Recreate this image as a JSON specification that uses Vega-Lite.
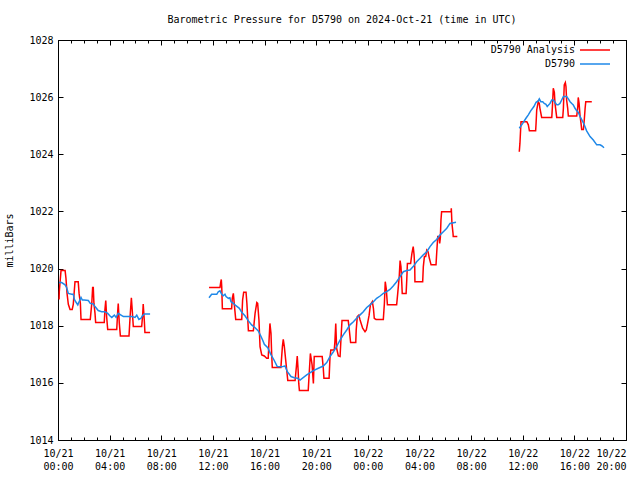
{
"$schema":"https://vega.github.io/schema/vega-lite/v6.json",
"width":568,"height":400,
"autosize":{"type":"none"},
"padding":{"left":58,"top":40,"right":14,"bottom":40},
"background":"white",
"title":{"text":"Barometric Pressure for D5790 on 2024-Oct-21 (time in UTC)","font":"DejaVu Sans Mono","fontSize":10,"fontWeight":"normal","color":"black","offset":10,"anchor":"middle"},
"config":{"view":{"stroke":"black","strokeWidth":1},"axis":{"labelFont":"DejaVu Sans Mono","labelFontSize":10,"labelColor":"black","domain":false,"grid":false,"ticks":true,"tickColor":"#000000","tickWidth":1,"tickOpacity":1,"titleFont":"DejaVu Sans Mono","titleFontSize":10,"titleFontWeight":"normal","titleColor":"black"}},
"datasets":{"d":[
{"t":"2024-10-21T00:05:00Z","v":1018.92,"s":"D5790 Analysis","g":1},
{"t":"2024-10-21T00:06:00Z","v":1019.19,"s":"D5790 Analysis","g":1},
{"t":"2024-10-21T00:14:00Z","v":1019.93,"s":"D5790 Analysis","g":1},
{"t":"2024-10-21T00:33:00Z","v":1019.93,"s":"D5790 Analysis","g":1},
{"t":"2024-10-21T00:37:00Z","v":1019.66,"s":"D5790 Analysis","g":1},
{"t":"2024-10-21T00:42:00Z","v":1019.13,"s":"D5790 Analysis","g":1},
{"t":"2024-10-21T00:48:00Z","v":1018.75,"s":"D5790 Analysis","g":1},
{"t":"2024-10-21T00:56:00Z","v":1018.57,"s":"D5790 Analysis","g":1},
{"t":"2024-10-21T01:06:00Z","v":1018.57,"s":"D5790 Analysis","g":1},
{"t":"2024-10-21T01:11:00Z","v":1018.75,"s":"D5790 Analysis","g":1},
{"t":"2024-10-21T01:19:00Z","v":1019.54,"s":"D5790 Analysis","g":1},
{"t":"2024-10-21T01:34:00Z","v":1019.54,"s":"D5790 Analysis","g":1},
{"t":"2024-10-21T01:38:00Z","v":1019.13,"s":"D5790 Analysis","g":1},
{"t":"2024-10-21T01:44:00Z","v":1018.78,"s":"D5790 Analysis","g":1},
{"t":"2024-10-21T01:47:00Z","v":1018.22,"s":"D5790 Analysis","g":1},
{"t":"2024-10-21T02:30:00Z","v":1018.22,"s":"D5790 Analysis","g":1},
{"t":"2024-10-21T02:37:00Z","v":1018.78,"s":"D5790 Analysis","g":1},
{"t":"2024-10-21T02:41:00Z","v":1019.34,"s":"D5790 Analysis","g":1},
{"t":"2024-10-21T02:44:00Z","v":1019.34,"s":"D5790 Analysis","g":1},
{"t":"2024-10-21T02:47:00Z","v":1018.78,"s":"D5790 Analysis","g":1},
{"t":"2024-10-21T02:52:00Z","v":1018.43,"s":"D5790 Analysis","g":1},
{"t":"2024-10-21T02:55:00Z","v":1018.11,"s":"D5790 Analysis","g":1},
{"t":"2024-10-21T03:35:00Z","v":1018.11,"s":"D5790 Analysis","g":1},
{"t":"2024-10-21T03:38:00Z","v":1018.55,"s":"D5790 Analysis","g":1},
{"t":"2024-10-21T03:42:00Z","v":1018.88,"s":"D5790 Analysis","g":1},
{"t":"2024-10-21T03:46:00Z","v":1018.32,"s":"D5790 Analysis","g":1},
{"t":"2024-10-21T03:51:00Z","v":1017.87,"s":"D5790 Analysis","g":1},
{"t":"2024-10-21T04:33:00Z","v":1017.87,"s":"D5790 Analysis","g":1},
{"t":"2024-10-21T04:37:00Z","v":1018.43,"s":"D5790 Analysis","g":1},
{"t":"2024-10-21T04:40:00Z","v":1018.78,"s":"D5790 Analysis","g":1},
{"t":"2024-10-21T04:45:00Z","v":1018.08,"s":"D5790 Analysis","g":1},
{"t":"2024-10-21T04:50:00Z","v":1017.64,"s":"D5790 Analysis","g":1},
{"t":"2024-10-21T05:30:00Z","v":1017.64,"s":"D5790 Analysis","g":1},
{"t":"2024-10-21T05:36:00Z","v":1018.43,"s":"D5790 Analysis","g":1},
{"t":"2024-10-21T05:41:00Z","v":1018.98,"s":"D5790 Analysis","g":1},
{"t":"2024-10-21T05:45:00Z","v":1018.55,"s":"D5790 Analysis","g":1},
{"t":"2024-10-21T05:50:00Z","v":1017.97,"s":"D5790 Analysis","g":1},
{"t":"2024-10-21T06:29:00Z","v":1017.97,"s":"D5790 Analysis","g":1},
{"t":"2024-10-21T06:34:00Z","v":1018.43,"s":"D5790 Analysis","g":1},
{"t":"2024-10-21T06:36:00Z","v":1018.76,"s":"D5790 Analysis","g":1},
{"t":"2024-10-21T06:41:00Z","v":1018.20,"s":"D5790 Analysis","g":1},
{"t":"2024-10-21T06:44:00Z","v":1017.76,"s":"D5790 Analysis","g":1},
{"t":"2024-10-21T07:08:00Z","v":1017.76,"s":"D5790 Analysis","g":1},
{"t":"2024-10-21T11:42:00Z","v":1019.34,"s":"D5790 Analysis","g":2},
{"t":"2024-10-21T12:33:00Z","v":1019.34,"s":"D5790 Analysis","g":2},
{"t":"2024-10-21T12:36:00Z","v":1019.51,"s":"D5790 Analysis","g":2},
{"t":"2024-10-21T12:39:00Z","v":1019.62,"s":"D5790 Analysis","g":2},
{"t":"2024-10-21T12:41:00Z","v":1019.37,"s":"D5790 Analysis","g":2},
{"t":"2024-10-21T12:44:00Z","v":1018.59,"s":"D5790 Analysis","g":2},
{"t":"2024-10-21T13:27:00Z","v":1018.59,"s":"D5790 Analysis","g":2},
{"t":"2024-10-21T13:30:00Z","v":1018.96,"s":"D5790 Analysis","g":2},
{"t":"2024-10-21T13:35:00Z","v":1019.13,"s":"D5790 Analysis","g":2},
{"t":"2024-10-21T13:39:00Z","v":1018.78,"s":"D5790 Analysis","g":2},
{"t":"2024-10-21T13:46:00Z","v":1018.22,"s":"D5790 Analysis","g":2},
{"t":"2024-10-21T14:14:00Z","v":1018.22,"s":"D5790 Analysis","g":2},
{"t":"2024-10-21T14:18:00Z","v":1018.90,"s":"D5790 Analysis","g":2},
{"t":"2024-10-21T14:23:00Z","v":1019.17,"s":"D5790 Analysis","g":2},
{"t":"2024-10-21T14:34:00Z","v":1019.17,"s":"D5790 Analysis","g":2},
{"t":"2024-10-21T14:38:00Z","v":1018.78,"s":"D5790 Analysis","g":2},
{"t":"2024-10-21T14:45:00Z","v":1017.82,"s":"D5790 Analysis","g":2},
{"t":"2024-10-21T15:08:00Z","v":1017.82,"s":"D5790 Analysis","g":2},
{"t":"2024-10-21T15:16:00Z","v":1018.43,"s":"D5790 Analysis","g":2},
{"t":"2024-10-21T15:24:00Z","v":1018.81,"s":"D5790 Analysis","g":2},
{"t":"2024-10-21T15:28:00Z","v":1018.78,"s":"D5790 Analysis","g":2},
{"t":"2024-10-21T15:34:00Z","v":1018.20,"s":"D5790 Analysis","g":2},
{"t":"2024-10-21T15:39:00Z","v":1017.27,"s":"D5790 Analysis","g":2},
{"t":"2024-10-21T15:47:00Z","v":1016.98,"s":"D5790 Analysis","g":2},
{"t":"2024-10-21T15:59:00Z","v":1016.94,"s":"D5790 Analysis","g":2},
{"t":"2024-10-21T16:10:00Z","v":1016.86,"s":"D5790 Analysis","g":2},
{"t":"2024-10-21T16:17:00Z","v":1016.86,"s":"D5790 Analysis","g":2},
{"t":"2024-10-21T16:21:00Z","v":1017.50,"s":"D5790 Analysis","g":2},
{"t":"2024-10-21T16:25:00Z","v":1018.08,"s":"D5790 Analysis","g":2},
{"t":"2024-10-21T16:30:00Z","v":1017.73,"s":"D5790 Analysis","g":2},
{"t":"2024-10-21T16:33:00Z","v":1017.03,"s":"D5790 Analysis","g":2},
{"t":"2024-10-21T16:36:00Z","v":1016.54,"s":"D5790 Analysis","g":2},
{"t":"2024-10-21T17:16:00Z","v":1016.54,"s":"D5790 Analysis","g":2},
{"t":"2024-10-21T17:23:00Z","v":1017.27,"s":"D5790 Analysis","g":2},
{"t":"2024-10-21T17:27:00Z","v":1017.52,"s":"D5790 Analysis","g":2},
{"t":"2024-10-21T17:32:00Z","v":1017.27,"s":"D5790 Analysis","g":2},
{"t":"2024-10-21T17:38:00Z","v":1016.82,"s":"D5790 Analysis","g":2},
{"t":"2024-10-21T17:43:00Z","v":1016.45,"s":"D5790 Analysis","g":2},
{"t":"2024-10-21T17:48:00Z","v":1016.08,"s":"D5790 Analysis","g":2},
{"t":"2024-10-21T18:22:00Z","v":1016.08,"s":"D5790 Analysis","g":2},
{"t":"2024-10-21T18:28:00Z","v":1016.57,"s":"D5790 Analysis","g":2},
{"t":"2024-10-21T18:32:00Z","v":1016.94,"s":"D5790 Analysis","g":2},
{"t":"2024-10-21T18:36:00Z","v":1016.45,"s":"D5790 Analysis","g":2},
{"t":"2024-10-21T18:39:00Z","v":1015.98,"s":"D5790 Analysis","g":2},
{"t":"2024-10-21T18:42:00Z","v":1015.73,"s":"D5790 Analysis","g":2},
{"t":"2024-10-21T19:23:00Z","v":1015.73,"s":"D5790 Analysis","g":2},
{"t":"2024-10-21T19:28:00Z","v":1016.39,"s":"D5790 Analysis","g":2},
{"t":"2024-10-21T19:33:00Z","v":1017.03,"s":"D5790 Analysis","g":2},
{"t":"2024-10-21T19:41:00Z","v":1016.63,"s":"D5790 Analysis","g":2},
{"t":"2024-10-21T19:47:00Z","v":1015.98,"s":"D5790 Analysis","g":2},
{"t":"2024-10-21T19:51:00Z","v":1016.92,"s":"D5790 Analysis","g":2},
{"t":"2024-10-21T20:28:00Z","v":1016.92,"s":"D5790 Analysis","g":2},
{"t":"2024-10-21T20:33:00Z","v":1016.51,"s":"D5790 Analysis","g":2},
{"t":"2024-10-21T20:36:00Z","v":1016.16,"s":"D5790 Analysis","g":2},
{"t":"2024-10-21T21:00:00Z","v":1016.16,"s":"D5790 Analysis","g":2},
{"t":"2024-10-21T21:04:00Z","v":1016.86,"s":"D5790 Analysis","g":2},
{"t":"2024-10-21T21:08:00Z","v":1017.15,"s":"D5790 Analysis","g":2},
{"t":"2024-10-21T21:24:00Z","v":1017.15,"s":"D5790 Analysis","g":2},
{"t":"2024-10-21T21:27:00Z","v":1017.44,"s":"D5790 Analysis","g":2},
{"t":"2024-10-21T21:31:00Z","v":1018.08,"s":"D5790 Analysis","g":2},
{"t":"2024-10-21T21:35:00Z","v":1017.21,"s":"D5790 Analysis","g":2},
{"t":"2024-10-21T21:43:00Z","v":1016.94,"s":"D5790 Analysis","g":2},
{"t":"2024-10-21T21:51:00Z","v":1016.92,"s":"D5790 Analysis","g":2},
{"t":"2024-10-21T21:55:00Z","v":1017.50,"s":"D5790 Analysis","g":2},
{"t":"2024-10-21T22:00:00Z","v":1018.18,"s":"D5790 Analysis","g":2},
{"t":"2024-10-21T22:29:00Z","v":1018.18,"s":"D5790 Analysis","g":2},
{"t":"2024-10-21T22:34:00Z","v":1017.85,"s":"D5790 Analysis","g":2},
{"t":"2024-10-21T22:40:00Z","v":1017.41,"s":"D5790 Analysis","g":2},
{"t":"2024-10-21T23:04:00Z","v":1017.41,"s":"D5790 Analysis","g":2},
{"t":"2024-10-21T23:06:00Z","v":1017.85,"s":"D5790 Analysis","g":2},
{"t":"2024-10-21T23:11:00Z","v":1018.32,"s":"D5790 Analysis","g":2},
{"t":"2024-10-21T23:18:00Z","v":1018.37,"s":"D5790 Analysis","g":2},
{"t":"2024-10-21T23:24:00Z","v":1018.20,"s":"D5790 Analysis","g":2},
{"t":"2024-10-21T23:36:00Z","v":1017.91,"s":"D5790 Analysis","g":2},
{"t":"2024-10-21T23:47:00Z","v":1017.79,"s":"D5790 Analysis","g":2},
{"t":"2024-10-21T23:53:00Z","v":1017.85,"s":"D5790 Analysis","g":2},
{"t":"2024-10-21T23:59:00Z","v":1018.08,"s":"D5790 Analysis","g":2},
{"t":"2024-10-22T00:06:00Z","v":1018.37,"s":"D5790 Analysis","g":2},
{"t":"2024-10-22T00:12:00Z","v":1018.73,"s":"D5790 Analysis","g":2},
{"t":"2024-10-22T00:21:00Z","v":1018.84,"s":"D5790 Analysis","g":2},
{"t":"2024-10-22T00:26:00Z","v":1018.61,"s":"D5790 Analysis","g":2},
{"t":"2024-10-22T00:30:00Z","v":1018.26,"s":"D5790 Analysis","g":2},
{"t":"2024-10-22T00:38:00Z","v":1018.22,"s":"D5790 Analysis","g":2},
{"t":"2024-10-22T01:12:00Z","v":1018.22,"s":"D5790 Analysis","g":2},
{"t":"2024-10-22T01:17:00Z","v":1018.78,"s":"D5790 Analysis","g":2},
{"t":"2024-10-22T01:21:00Z","v":1019.54,"s":"D5790 Analysis","g":2},
{"t":"2024-10-22T01:26:00Z","v":1019.27,"s":"D5790 Analysis","g":2},
{"t":"2024-10-22T01:31:00Z","v":1018.73,"s":"D5790 Analysis","g":2},
{"t":"2024-10-22T02:14:00Z","v":1018.73,"s":"D5790 Analysis","g":2},
{"t":"2024-10-22T02:19:00Z","v":1019.13,"s":"D5790 Analysis","g":2},
{"t":"2024-10-22T02:26:00Z","v":1019.72,"s":"D5790 Analysis","g":2},
{"t":"2024-10-22T02:30:00Z","v":1020.28,"s":"D5790 Analysis","g":2},
{"t":"2024-10-22T02:34:00Z","v":1020.07,"s":"D5790 Analysis","g":2},
{"t":"2024-10-22T02:38:00Z","v":1019.48,"s":"D5790 Analysis","g":2},
{"t":"2024-10-22T02:40:00Z","v":1019.13,"s":"D5790 Analysis","g":2},
{"t":"2024-10-22T02:58:00Z","v":1019.13,"s":"D5790 Analysis","g":2},
{"t":"2024-10-22T03:01:00Z","v":1019.60,"s":"D5790 Analysis","g":2},
{"t":"2024-10-22T03:04:00Z","v":1020.18,"s":"D5790 Analysis","g":2},
{"t":"2024-10-22T03:19:00Z","v":1020.18,"s":"D5790 Analysis","g":2},
{"t":"2024-10-22T03:25:00Z","v":1020.53,"s":"D5790 Analysis","g":2},
{"t":"2024-10-22T03:31:00Z","v":1020.77,"s":"D5790 Analysis","g":2},
{"t":"2024-10-22T03:35:00Z","v":1020.48,"s":"D5790 Analysis","g":2},
{"t":"2024-10-22T03:38:00Z","v":1020.07,"s":"D5790 Analysis","g":2},
{"t":"2024-10-22T03:39:00Z","v":1019.54,"s":"D5790 Analysis","g":2},
{"t":"2024-10-22T04:15:00Z","v":1019.54,"s":"D5790 Analysis","g":2},
{"t":"2024-10-22T04:18:00Z","v":1020.07,"s":"D5790 Analysis","g":2},
{"t":"2024-10-22T04:23:00Z","v":1020.42,"s":"D5790 Analysis","g":2},
{"t":"2024-10-22T04:29:00Z","v":1020.42,"s":"D5790 Analysis","g":2},
{"t":"2024-10-22T04:34:00Z","v":1020.65,"s":"D5790 Analysis","g":2},
{"t":"2024-10-22T04:40:00Z","v":1020.59,"s":"D5790 Analysis","g":2},
{"t":"2024-10-22T04:46:00Z","v":1020.36,"s":"D5790 Analysis","g":2},
{"t":"2024-10-22T04:54:00Z","v":1020.13,"s":"D5790 Analysis","g":2},
{"t":"2024-10-22T05:17:00Z","v":1020.13,"s":"D5790 Analysis","g":2},
{"t":"2024-10-22T05:20:00Z","v":1020.53,"s":"D5790 Analysis","g":2},
{"t":"2024-10-22T05:25:00Z","v":1021.12,"s":"D5790 Analysis","g":2},
{"t":"2024-10-22T05:31:00Z","v":1021.12,"s":"D5790 Analysis","g":2},
{"t":"2024-10-22T05:34:00Z","v":1020.88,"s":"D5790 Analysis","g":2},
{"t":"2024-10-22T05:37:00Z","v":1021.06,"s":"D5790 Analysis","g":2},
{"t":"2024-10-22T05:40:00Z","v":1021.70,"s":"D5790 Analysis","g":2},
{"t":"2024-10-22T05:43:00Z","v":1021.99,"s":"D5790 Analysis","g":2},
{"t":"2024-10-22T06:27:00Z","v":1021.99,"s":"D5790 Analysis","g":2},
{"t":"2024-10-22T06:28:00Z","v":1022.11,"s":"D5790 Analysis","g":2},
{"t":"2024-10-22T06:31:00Z","v":1021.58,"s":"D5790 Analysis","g":2},
{"t":"2024-10-22T06:36:00Z","v":1021.23,"s":"D5790 Analysis","g":2},
{"t":"2024-10-22T06:37:00Z","v":1021.12,"s":"D5790 Analysis","g":2},
{"t":"2024-10-22T06:56:00Z","v":1021.12,"s":"D5790 Analysis","g":2},
{"t":"2024-10-22T11:44:00Z","v":1024.09,"s":"D5790 Analysis","g":3},
{"t":"2024-10-22T11:47:00Z","v":1024.38,"s":"D5790 Analysis","g":3},
{"t":"2024-10-22T11:52:00Z","v":1025.14,"s":"D5790 Analysis","g":3},
{"t":"2024-10-22T12:19:00Z","v":1025.14,"s":"D5790 Analysis","g":3},
{"t":"2024-10-22T12:26:00Z","v":1025.03,"s":"D5790 Analysis","g":3},
{"t":"2024-10-22T12:31:00Z","v":1024.82,"s":"D5790 Analysis","g":3},
{"t":"2024-10-22T13:00:00Z","v":1024.82,"s":"D5790 Analysis","g":3},
{"t":"2024-10-22T13:02:00Z","v":1025.08,"s":"D5790 Analysis","g":3},
{"t":"2024-10-22T13:05:00Z","v":1025.55,"s":"D5790 Analysis","g":3},
{"t":"2024-10-22T13:12:00Z","v":1025.84,"s":"D5790 Analysis","g":3},
{"t":"2024-10-22T13:17:00Z","v":1025.78,"s":"D5790 Analysis","g":3},
{"t":"2024-10-22T13:20:00Z","v":1025.61,"s":"D5790 Analysis","g":3},
{"t":"2024-10-22T13:28:00Z","v":1025.29,"s":"D5790 Analysis","g":3},
{"t":"2024-10-22T14:15:00Z","v":1025.29,"s":"D5790 Analysis","g":3},
{"t":"2024-10-22T14:18:00Z","v":1025.67,"s":"D5790 Analysis","g":3},
{"t":"2024-10-22T14:22:00Z","v":1026.31,"s":"D5790 Analysis","g":3},
{"t":"2024-10-22T14:27:00Z","v":1026.17,"s":"D5790 Analysis","g":3},
{"t":"2024-10-22T14:30:00Z","v":1025.78,"s":"D5790 Analysis","g":3},
{"t":"2024-10-22T14:38:00Z","v":1025.29,"s":"D5790 Analysis","g":3},
{"t":"2024-10-22T15:06:00Z","v":1025.29,"s":"D5790 Analysis","g":3},
{"t":"2024-10-22T15:09:00Z","v":1025.61,"s":"D5790 Analysis","g":3},
{"t":"2024-10-22T15:13:00Z","v":1026.43,"s":"D5790 Analysis","g":3},
{"t":"2024-10-22T15:18:00Z","v":1026.51,"s":"D5790 Analysis","g":3},
{"t":"2024-10-22T15:21:00Z","v":1026.37,"s":"D5790 Analysis","g":3},
{"t":"2024-10-22T15:24:00Z","v":1025.90,"s":"D5790 Analysis","g":3},
{"t":"2024-10-22T15:29:00Z","v":1025.61,"s":"D5790 Analysis","g":3},
{"t":"2024-10-22T15:32:00Z","v":1025.34,"s":"D5790 Analysis","g":3},
{"t":"2024-10-22T16:11:00Z","v":1025.34,"s":"D5790 Analysis","g":3},
{"t":"2024-10-22T16:16:00Z","v":1025.67,"s":"D5790 Analysis","g":3},
{"t":"2024-10-22T16:18:00Z","v":1025.99,"s":"D5790 Analysis","g":3},
{"t":"2024-10-22T16:22:00Z","v":1025.78,"s":"D5790 Analysis","g":3},
{"t":"2024-10-22T16:26:00Z","v":1025.38,"s":"D5790 Analysis","g":3},
{"t":"2024-10-22T16:31:00Z","v":1025.08,"s":"D5790 Analysis","g":3},
{"t":"2024-10-22T16:34:00Z","v":1024.87,"s":"D5790 Analysis","g":3},
{"t":"2024-10-22T16:42:00Z","v":1024.87,"s":"D5790 Analysis","g":3},
{"t":"2024-10-22T16:46:00Z","v":1025.20,"s":"D5790 Analysis","g":3},
{"t":"2024-10-22T16:50:00Z","v":1025.61,"s":"D5790 Analysis","g":3},
{"t":"2024-10-22T16:53:00Z","v":1025.84,"s":"D5790 Analysis","g":3},
{"t":"2024-10-22T17:21:00Z","v":1025.84,"s":"D5790 Analysis","g":3},
{"t":"2024-10-21T00:05:00Z","v":1019.51,"s":"D5790","g":1},
{"t":"2024-10-21T00:17:00Z","v":1019.51,"s":"D5790","g":1},
{"t":"2024-10-21T00:33:00Z","v":1019.43,"s":"D5790","g":1},
{"t":"2024-10-21T00:40:00Z","v":1019.34,"s":"D5790","g":1},
{"t":"2024-10-21T00:48:00Z","v":1019.13,"s":"D5790","g":1},
{"t":"2024-10-21T01:04:00Z","v":1019.10,"s":"D5790","g":1},
{"t":"2024-10-21T01:11:00Z","v":1019.10,"s":"D5790","g":1},
{"t":"2024-10-21T01:16:00Z","v":1018.92,"s":"D5790","g":1},
{"t":"2024-10-21T01:24:00Z","v":1018.82,"s":"D5790","g":1},
{"t":"2024-10-21T01:32:00Z","v":1018.73,"s":"D5790","g":1},
{"t":"2024-10-21T01:38:00Z","v":1018.84,"s":"D5790","g":1},
{"t":"2024-10-21T01:47:00Z","v":1018.99,"s":"D5790","g":1},
{"t":"2024-10-21T01:53:00Z","v":1018.90,"s":"D5790","g":1},
{"t":"2024-10-21T02:02:00Z","v":1018.90,"s":"D5790","g":1},
{"t":"2024-10-21T02:21:00Z","v":1018.88,"s":"D5790","g":1},
{"t":"2024-10-21T02:30:00Z","v":1018.78,"s":"D5790","g":1},
{"t":"2024-10-21T02:44:00Z","v":1018.76,"s":"D5790","g":1},
{"t":"2024-10-21T02:52:00Z","v":1018.67,"s":"D5790","g":1},
{"t":"2024-10-21T03:07:00Z","v":1018.53,"s":"D5790","g":1},
{"t":"2024-10-21T03:23:00Z","v":1018.49,"s":"D5790","g":1},
{"t":"2024-10-21T03:38:00Z","v":1018.49,"s":"D5790","g":1},
{"t":"2024-10-21T03:51:00Z","v":1018.43,"s":"D5790","g":1},
{"t":"2024-10-21T04:02:00Z","v":1018.34,"s":"D5790","g":1},
{"t":"2024-10-21T04:10:00Z","v":1018.29,"s":"D5790","g":1},
{"t":"2024-10-21T04:22:00Z","v":1018.37,"s":"D5790","g":1},
{"t":"2024-10-21T04:30:00Z","v":1018.29,"s":"D5790","g":1},
{"t":"2024-10-21T04:40:00Z","v":1018.43,"s":"D5790","g":1},
{"t":"2024-10-21T04:53:00Z","v":1018.37,"s":"D5790","g":1},
{"t":"2024-10-21T05:04:00Z","v":1018.32,"s":"D5790","g":1},
{"t":"2024-10-21T05:43:00Z","v":1018.32,"s":"D5790","g":1},
{"t":"2024-10-21T05:58:00Z","v":1018.29,"s":"D5790","g":1},
{"t":"2024-10-21T06:06:00Z","v":1018.37,"s":"D5790","g":1},
{"t":"2024-10-21T06:16:00Z","v":1018.22,"s":"D5790","g":1},
{"t":"2024-10-21T06:26:00Z","v":1018.26,"s":"D5790","g":1},
{"t":"2024-10-21T06:32:00Z","v":1018.34,"s":"D5790","g":1},
{"t":"2024-10-21T06:41:00Z","v":1018.41,"s":"D5790","g":1},
{"t":"2024-10-21T07:08:00Z","v":1018.41,"s":"D5790","g":1},
{"t":"2024-10-21T11:42:00Z","v":1018.98,"s":"D5790","g":2},
{"t":"2024-10-21T11:54:00Z","v":1019.10,"s":"D5790","g":2},
{"t":"2024-10-21T12:18:00Z","v":1019.10,"s":"D5790","g":2},
{"t":"2024-10-21T12:25:00Z","v":1019.19,"s":"D5790","g":2},
{"t":"2024-10-21T12:33:00Z","v":1019.22,"s":"D5790","g":2},
{"t":"2024-10-21T12:41:00Z","v":1019.10,"s":"D5790","g":2},
{"t":"2024-10-21T12:48:00Z","v":1019.05,"s":"D5790","g":2},
{"t":"2024-10-21T12:56:00Z","v":1019.10,"s":"D5790","g":2},
{"t":"2024-10-21T13:01:00Z","v":1019.02,"s":"D5790","g":2},
{"t":"2024-10-21T13:12:00Z","v":1018.96,"s":"D5790","g":2},
{"t":"2024-10-21T13:19:00Z","v":1018.98,"s":"D5790","g":2},
{"t":"2024-10-21T13:24:00Z","v":1018.84,"s":"D5790","g":2},
{"t":"2024-10-21T13:35:00Z","v":1018.78,"s":"D5790","g":2},
{"t":"2024-10-21T13:47:00Z","v":1018.70,"s":"D5790","g":2},
{"t":"2024-10-21T14:03:00Z","v":1018.61,"s":"D5790","g":2},
{"t":"2024-10-21T14:14:00Z","v":1018.47,"s":"D5790","g":2},
{"t":"2024-10-21T14:29:00Z","v":1018.35,"s":"D5790","g":2},
{"t":"2024-10-21T14:45:00Z","v":1018.17,"s":"D5790","g":2},
{"t":"2024-10-21T15:00:00Z","v":1018.03,"s":"D5790","g":2},
{"t":"2024-10-21T15:16:00Z","v":1017.93,"s":"D5790","g":2},
{"t":"2024-10-21T15:31:00Z","v":1017.82,"s":"D5790","g":2},
{"t":"2024-10-21T15:42:00Z","v":1017.65,"s":"D5790","g":2},
{"t":"2024-10-21T15:51:00Z","v":1017.50,"s":"D5790","g":2},
{"t":"2024-10-21T15:59:00Z","v":1017.35,"s":"D5790","g":2},
{"t":"2024-10-21T16:15:00Z","v":1017.23,"s":"D5790","g":2},
{"t":"2024-10-21T16:29:00Z","v":1017.00,"s":"D5790","g":2},
{"t":"2024-10-21T16:44:00Z","v":1016.80,"s":"D5790","g":2},
{"t":"2024-10-21T16:59:00Z","v":1016.57,"s":"D5790","g":2},
{"t":"2024-10-21T17:20:00Z","v":1016.56,"s":"D5790","g":2},
{"t":"2024-10-21T17:35:00Z","v":1016.59,"s":"D5790","g":2},
{"t":"2024-10-21T17:46:00Z","v":1016.39,"s":"D5790","g":2},
{"t":"2024-10-21T18:03:00Z","v":1016.22,"s":"D5790","g":2},
{"t":"2024-10-21T18:18:00Z","v":1016.18,"s":"D5790","g":2},
{"t":"2024-10-21T18:34:00Z","v":1016.16,"s":"D5790","g":2},
{"t":"2024-10-21T18:45:00Z","v":1016.10,"s":"D5790","g":2},
{"t":"2024-10-21T19:16:00Z","v":1016.28,"s":"D5790","g":2},
{"t":"2024-10-21T19:47:00Z","v":1016.43,"s":"D5790","g":2},
{"t":"2024-10-21T20:10:00Z","v":1016.51,"s":"D5790","g":2},
{"t":"2024-10-21T20:33:00Z","v":1016.59,"s":"D5790","g":2},
{"t":"2024-10-21T20:49:00Z","v":1016.71,"s":"D5790","g":2},
{"t":"2024-10-21T21:04:00Z","v":1016.92,"s":"D5790","g":2},
{"t":"2024-10-21T21:20:00Z","v":1017.09,"s":"D5790","g":2},
{"t":"2024-10-21T21:35:00Z","v":1017.27,"s":"D5790","g":2},
{"t":"2024-10-21T21:51:00Z","v":1017.50,"s":"D5790","g":2},
{"t":"2024-10-21T22:06:00Z","v":1017.68,"s":"D5790","g":2},
{"t":"2024-10-21T22:22:00Z","v":1017.85,"s":"D5790","g":2},
{"t":"2024-10-21T22:37:00Z","v":1018.03,"s":"D5790","g":2},
{"t":"2024-10-21T22:53:00Z","v":1018.14,"s":"D5790","g":2},
{"t":"2024-10-21T23:08:00Z","v":1018.26,"s":"D5790","g":2},
{"t":"2024-10-21T23:24:00Z","v":1018.38,"s":"D5790","g":2},
{"t":"2024-10-21T23:39:00Z","v":1018.49,"s":"D5790","g":2},
{"t":"2024-10-21T23:55:00Z","v":1018.64,"s":"D5790","g":2},
{"t":"2024-10-22T00:10:00Z","v":1018.73,"s":"D5790","g":2},
{"t":"2024-10-22T00:26:00Z","v":1018.84,"s":"D5790","g":2},
{"t":"2024-10-22T00:41:00Z","v":1018.96,"s":"D5790","g":2},
{"t":"2024-10-22T00:57:00Z","v":1019.04,"s":"D5790","g":2},
{"t":"2024-10-22T01:12:00Z","v":1019.13,"s":"D5790","g":2},
{"t":"2024-10-22T01:28:00Z","v":1019.19,"s":"D5790","g":2},
{"t":"2024-10-22T01:43:00Z","v":1019.27,"s":"D5790","g":2},
{"t":"2024-10-22T01:58:00Z","v":1019.39,"s":"D5790","g":2},
{"t":"2024-10-22T02:14:00Z","v":1019.54,"s":"D5790","g":2},
{"t":"2024-10-22T02:30:00Z","v":1019.72,"s":"D5790","g":2},
{"t":"2024-10-22T02:45:00Z","v":1019.89,"s":"D5790","g":2},
{"t":"2024-10-22T03:01:00Z","v":1019.93,"s":"D5790","g":2},
{"t":"2024-10-22T03:16:00Z","v":1019.95,"s":"D5790","g":2},
{"t":"2024-10-22T03:31:00Z","v":1020.07,"s":"D5790","g":2},
{"t":"2024-10-22T03:47:00Z","v":1020.24,"s":"D5790","g":2},
{"t":"2024-10-22T04:03:00Z","v":1020.36,"s":"D5790","g":2},
{"t":"2024-10-22T04:18:00Z","v":1020.48,"s":"D5790","g":2},
{"t":"2024-10-22T04:34:00Z","v":1020.59,"s":"D5790","g":2},
{"t":"2024-10-22T04:49:00Z","v":1020.77,"s":"D5790","g":2},
{"t":"2024-10-22T05:04:00Z","v":1020.91,"s":"D5790","g":2},
{"t":"2024-10-22T05:20:00Z","v":1021.02,"s":"D5790","g":2},
{"t":"2024-10-22T05:36:00Z","v":1021.18,"s":"D5790","g":2},
{"t":"2024-10-22T05:51:00Z","v":1021.29,"s":"D5790","g":2},
{"t":"2024-10-22T06:07:00Z","v":1021.41,"s":"D5790","g":2},
{"t":"2024-10-22T06:22:00Z","v":1021.58,"s":"D5790","g":2},
{"t":"2024-10-22T06:50:00Z","v":1021.62,"s":"D5790","g":2},
{"t":"2024-10-22T11:44:00Z","v":1024.91,"s":"D5790","g":3},
{"t":"2024-10-22T12:00:00Z","v":1025.08,"s":"D5790","g":3},
{"t":"2024-10-22T12:15:00Z","v":1025.26,"s":"D5790","g":3},
{"t":"2024-10-22T12:26:00Z","v":1025.38,"s":"D5790","g":3},
{"t":"2024-10-22T12:37:00Z","v":1025.52,"s":"D5790","g":3},
{"t":"2024-10-22T12:52:00Z","v":1025.67,"s":"D5790","g":3},
{"t":"2024-10-22T13:02:00Z","v":1025.82,"s":"D5790","g":3},
{"t":"2024-10-22T13:12:00Z","v":1025.87,"s":"D5790","g":3},
{"t":"2024-10-22T13:17:00Z","v":1025.94,"s":"D5790","g":3},
{"t":"2024-10-22T13:24:00Z","v":1025.84,"s":"D5790","g":3},
{"t":"2024-10-22T13:33:00Z","v":1025.84,"s":"D5790","g":3},
{"t":"2024-10-22T13:40:00Z","v":1025.78,"s":"D5790","g":3},
{"t":"2024-10-22T13:48:00Z","v":1025.75,"s":"D5790","g":3},
{"t":"2024-10-22T13:54:00Z","v":1025.67,"s":"D5790","g":3},
{"t":"2024-10-22T14:07:00Z","v":1025.78,"s":"D5790","g":3},
{"t":"2024-10-22T14:15:00Z","v":1025.90,"s":"D5790","g":3},
{"t":"2024-10-22T14:22:00Z","v":1025.90,"s":"D5790","g":3},
{"t":"2024-10-22T14:30:00Z","v":1025.82,"s":"D5790","g":3},
{"t":"2024-10-22T14:38:00Z","v":1025.73,"s":"D5790","g":3},
{"t":"2024-10-22T14:45:00Z","v":1025.73,"s":"D5790","g":3},
{"t":"2024-10-22T14:53:00Z","v":1025.78,"s":"D5790","g":3},
{"t":"2024-10-22T15:01:00Z","v":1025.90,"s":"D5790","g":3},
{"t":"2024-10-22T15:09:00Z","v":1026.02,"s":"D5790","g":3},
{"t":"2024-10-22T15:24:00Z","v":1026.02,"s":"D5790","g":3},
{"t":"2024-10-22T15:32:00Z","v":1025.94,"s":"D5790","g":3},
{"t":"2024-10-22T15:40:00Z","v":1025.84,"s":"D5790","g":3},
{"t":"2024-10-22T15:48:00Z","v":1025.78,"s":"D5790","g":3},
{"t":"2024-10-22T15:55:00Z","v":1025.73,"s":"D5790","g":3},
{"t":"2024-10-22T16:03:00Z","v":1025.61,"s":"D5790","g":3},
{"t":"2024-10-22T16:11:00Z","v":1025.52,"s":"D5790","g":3},
{"t":"2024-10-22T16:18:00Z","v":1025.47,"s":"D5790","g":3},
{"t":"2024-10-22T16:29:00Z","v":1025.28,"s":"D5790","g":3},
{"t":"2024-10-22T16:39:00Z","v":1025.14,"s":"D5790","g":3},
{"t":"2024-10-22T16:45:00Z","v":1025.05,"s":"D5790","g":3},
{"t":"2024-10-22T16:57:00Z","v":1024.82,"s":"D5790","g":3},
{"t":"2024-10-22T17:13:00Z","v":1024.62,"s":"D5790","g":3},
{"t":"2024-10-22T17:28:00Z","v":1024.50,"s":"D5790","g":3},
{"t":"2024-10-22T17:44:00Z","v":1024.33,"s":"D5790","g":3},
{"t":"2024-10-22T17:59:00Z","v":1024.33,"s":"D5790","g":3},
{"t":"2024-10-22T18:07:00Z","v":1024.30,"s":"D5790","g":3},
{"t":"2024-10-22T18:18:00Z","v":1024.23,"s":"D5790","g":3}
]},
"data":{"name":"d"},
"resolve":{"axis":{"x":"independent","y":"independent"}},
"layer":[
{"mark":{"type":"line","strokeWidth":1.5},
 "encoding":{
  "x":{"field":"t","type":"temporal","scale":{"type":"utc","domain":[1729468800000,1729627200000]},
       "axis":{"orient":"bottom","title":null,"values":[1729468800000,1729483200000,1729497600000,1729512000000,1729526400000,1729540800000,1729555200000,1729569600000,1729584000000,1729598400000,1729612800000,1729627200000],
               "tickSize":5,"offset":-5,"labelPadding":8,"labelOverlap":false,"labelFlush":false,"labelLineHeight":13,"labelBaseline":"top",
               "labelAlign":{"condition":{"test":"datum.value >= 1729627200000","value":"right"},"value":"center"},
               "labelExpr":"[utcFormat(datum.value, '%m/%d'), utcFormat(datum.value, '%H:%M')]"}},
  "y":{"field":"v","type":"quantitative","scale":{"domain":[1014,1028],"nice":false,"zero":false},
       "axis":{"orient":"left","title":"milliBars","values":[1014,1016,1018,1020,1022,1024,1026,1028],"format":"d","tickSize":5,"offset":-5,"labelPadding":5,"titlePadding":14}},
  "color":{"field":"s","type":"nominal","scale":{"domain":["D5790 Analysis","D5790"],"range":["#ff0000","#1f88e8"]},
       "legend":{"title":null,"orient":"none","legendX":531,"legendY":4,"symbolType":"M-3,0H3","symbolSize":100,"symbolStrokeWidth":1.5,"labelFont":"DejaVu Sans Mono","labelFontSize":10,"labelColor":"black","labelAlign":"right","labelOffset":-26,"rowPadding":3,"padding":0}},
  "detail":{"field":"g"}
 }},
{"mark":{"type":"line","opacity":0},
 "encoding":{
  "x":{"field":"t","type":"temporal",
       "axis":{"orient":"top","title":null,"values":[1729468800000,1729483200000,1729497600000,1729512000000,1729526400000,1729540800000,1729555200000,1729569600000,1729584000000,1729598400000,1729612800000,1729627200000],"tickSize":5,"offset":-5,"labels":false}},
  "y":{"field":"v","type":"quantitative","axis":{"orient":"right","title":null,"values":[1014,1016,1018,1020,1022,1024,1026,1028],"tickSize":5,"offset":-5,"labels":false}},
  "detail":{"field":"g"}
 }},
{"mark":{"type":"line","opacity":0},
 "encoding":{
  "x":{"field":"t","type":"temporal",
       "axis":{"orient":"bottom","title":null,"values":[1729468800000,1729472400000,1729476000000,1729479600000,1729483200000,1729486800000,1729490400000,1729494000000,1729497600000,1729501200000,1729504800000,1729508400000,1729512000000,1729515600000,1729519200000,1729522800000,1729526400000,1729530000000,1729533600000,1729537200000,1729540800000,1729544400000,1729548000000,1729551600000,1729555200000,1729558800000,1729562400000,1729566000000,1729569600000,1729573200000,1729576800000,1729580400000,1729584000000,1729587600000,1729591200000,1729594800000,1729598400000,1729602000000,1729605600000,1729609200000,1729612800000,1729616400000,1729620000000,1729623600000,1729627200000],"tickSize":3,"offset":-3,"labels":false}},
  "y":{"field":"v","type":"quantitative","axis":null},
  "detail":{"field":"g"}
 }},
{"mark":{"type":"line","opacity":0},
 "encoding":{
  "x":{"field":"t","type":"temporal",
       "axis":{"orient":"top","title":null,"values":[1729468800000,1729472400000,1729476000000,1729479600000,1729483200000,1729486800000,1729490400000,1729494000000,1729497600000,1729501200000,1729504800000,1729508400000,1729512000000,1729515600000,1729519200000,1729522800000,1729526400000,1729530000000,1729533600000,1729537200000,1729540800000,1729544400000,1729548000000,1729551600000,1729555200000,1729558800000,1729562400000,1729566000000,1729569600000,1729573200000,1729576800000,1729580400000,1729584000000,1729587600000,1729591200000,1729594800000,1729598400000,1729602000000,1729605600000,1729609200000,1729612800000,1729616400000,1729620000000,1729623600000,1729627200000],"tickSize":3,"offset":-3,"labels":false}},
  "y":{"field":"v","type":"quantitative","axis":null},
  "detail":{"field":"g"}
 }}
]
}
